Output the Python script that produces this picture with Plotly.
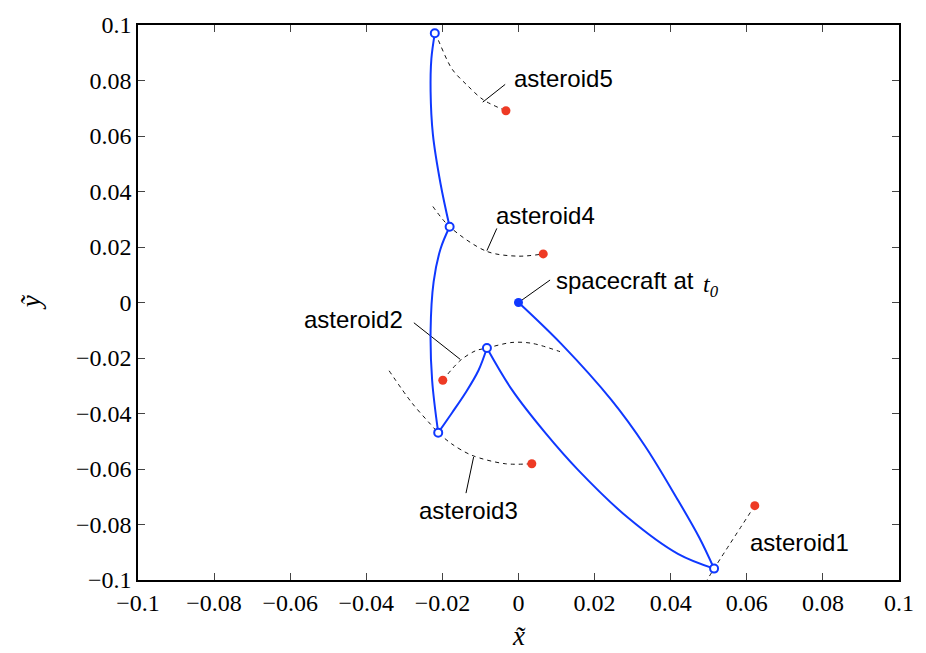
import plotly.graph_objects as go

# ---------------- data ----------------
# spacecraft trajectory legs (x, y)
leg1_x = [0.0, 0.0113, 0.0244, 0.0332, 0.0416, 0.0475, 0.0514]
leg1_y = [0.0, -0.0150, -0.0351, -0.0516, -0.0705, -0.0847, -0.0959]
leg2_x = [0.0514, 0.0419, 0.0288, 0.0157, 0.0070, -0.0017, -0.0083]
leg2_y = [-0.0959, -0.0906, -0.0776, -0.0604, -0.0469, -0.0315, -0.0164]
leg3_x = [-0.0083, -0.0105, -0.0140, -0.0175, -0.0211]
leg3_y = [-0.0164, -0.0244, -0.0327, -0.0398, -0.0469]
leg4_x = [-0.0211, -0.0227, -0.0231, -0.0223, -0.0205, -0.0181]
leg4_y = [-0.0469, -0.0280, -0.0103, 0.0075, 0.0193, 0.0273]
leg5_x = [-0.0181, -0.0205, -0.0225, -0.0231, -0.0229, -0.0220]
leg5_y = [0.0273, 0.0429, 0.0606, 0.0760, 0.0878, 0.0970]

# asteroid paths (dashed)
ast1_x = [0.0621, 0.0514, 0.0478]
ast1_y = [-0.0732, -0.0959, -0.1040]
ast2_x = [-0.0199, -0.0153, -0.0113, -0.0083, -0.0017, 0.0035, 0.0109]
ast2_y = [-0.0280, -0.0209, -0.0174, -0.0164, -0.0144, -0.0147, -0.0177]
ast3_x = [-0.0340, -0.0280, -0.0231, -0.0211, -0.0175, -0.0122, -0.0035, 0.0035]
ast3_y = [-0.0246, -0.0362, -0.0439, -0.0469, -0.0510, -0.0551, -0.0581, -0.0581]
ast4_x = [-0.0225, -0.0181, -0.0083, 0.0000, 0.0065]
ast4_y = [0.0346, 0.0273, 0.0184, 0.0167, 0.0175]
ast5_x = [-0.0220, -0.0214, -0.0175, -0.0135, -0.0092, -0.0033]
ast5_y = [0.0970, 0.0955, 0.0842, 0.0783, 0.0730, 0.0691]

# asteroid positions at t0 (red dots)
ast_t0_x = [0.0621, -0.0199, 0.0035, 0.0065, -0.0033]
ast_t0_y = [-0.0732, -0.0280, -0.0581, 0.0175, 0.0691]

# encounter points (open circles)
enc_x = [0.0514, -0.0083, -0.0211, -0.0181, -0.0220]
enc_y = [-0.0959, -0.0164, -0.0469, 0.0273, 0.0970]

# spacecraft start
sc_x = [0.0]
sc_y = [0.0]

# labels
label_text = ["asteroid1", "asteroid2", "asteroid3", "asteroid4", "asteroid5", "spacecraft at"]
label_x = [0.0604, -0.0298, -0.0132, -0.0064, -0.0018, 0.0094]
label_y = [-0.0864, -0.0061, -0.0750, 0.0314, 0.0807, 0.0080]
label_anchor = ["left", "right", "center", "left", "left", "left"]

t0_text = "<i>t</i><sub><i>0</i></sub>"
t0_x = 0.0480
t0_y = 0.0060

# leader lines: (x0, y0, x1, y1)
leader_x0 = [-0.0094, -0.0083, 0.0000, -0.0275, -0.0118]
leader_y0 = [0.0722, 0.0187, 0.0000, -0.0073, -0.0557]
leader_x1 = [-0.0035, -0.0057, 0.0083, -0.0153, -0.0138]
leader_y1 = [0.0786, 0.0267, 0.0081, -0.0205, -0.0687]

tick_vals = [-0.1, -0.08, -0.06, -0.04, -0.02, 0, 0.02, 0.04, 0.06, 0.08, 0.1]
tick_text = ["\u22120.1", "\u22120.08", "\u22120.06", "\u22120.04", "\u22120.02", "0",
             "0.02", "0.04", "0.06", "0.08", "0.1"]

BLUE = "#0f38ff"
RED = "#ee3a24"
SERIF = "Liberation Serif"
SANS = "Liberation Sans"

fig = go.Figure()

# dashed asteroid paths
for ax, ay in [(ast1_x, ast1_y), (ast2_x, ast2_y), (ast3_x, ast3_y), (ast4_x, ast4_y), (ast5_x, ast5_y)]:
    fig.add_trace(go.Scatter(x=ax, y=ay, mode="lines",
                             line=dict(color="#111111", width=1, dash="4px,4px", shape="spline", smoothing=0.9),
                             hoverinfo="skip", showlegend=False))

# leader lines
for x0, y0, x1, y1 in zip(leader_x0, leader_y0, leader_x1, leader_y1):
    fig.add_trace(go.Scatter(x=[x0, x1], y=[y0, y1], mode="lines",
                             line=dict(color="black", width=1),
                             hoverinfo="skip", showlegend=False))

# spacecraft legs
for lx, ly in [(leg1_x, leg1_y), (leg2_x, leg2_y), (leg3_x, leg3_y), (leg4_x, leg4_y), (leg5_x, leg5_y)]:
    fig.add_trace(go.Scatter(x=lx, y=ly, mode="lines",
                             line=dict(color=BLUE, width=2, shape="spline", smoothing=1.0),
                             hoverinfo="skip", showlegend=False))

# red asteroid dots
fig.add_trace(go.Scatter(x=ast_t0_x, y=ast_t0_y, mode="markers",
                         marker=dict(color=RED, size=9, line=dict(width=0)),
                         showlegend=False))
# encounter open circles
fig.add_trace(go.Scatter(x=enc_x, y=enc_y, mode="markers", cliponaxis=False,
                         marker=dict(color="white", size=8, line=dict(color=BLUE, width=2)),
                         showlegend=False))
# spacecraft start
fig.add_trace(go.Scatter(x=sc_x, y=sc_y, mode="markers",
                         marker=dict(color=BLUE, size=9, line=dict(width=0)),
                         showlegend=False))

annotations = []
for t, x, y, a in zip(label_text, label_x, label_y, label_anchor):
    annotations.append(dict(x=x, y=y, xref="x", yref="y", text=t, showarrow=False,
                            xanchor=a, yanchor="middle",
                            font=dict(family=SANS, size=24, color="black")))
annotations.append(dict(x=t0_x, y=t0_y, xref="x", yref="y", text=t0_text, showarrow=False,
                        xanchor="left", yanchor="middle",
                        font=dict(family=SERIF, size=24, color="black")))
# axis titles
annotations.append(dict(x=0.5, y=-0.1, xref="paper", yref="paper", text="<i>x\u0303</i>", showarrow=False,
                        xanchor="center", yanchor="middle",
                        font=dict(family=SERIF, size=27, color="black")))
annotations.append(dict(x=-0.141, y=0.5, xref="paper", yref="paper", text="<i>y\u0303</i>", showarrow=False,
                        xanchor="center", yanchor="middle", textangle=-90,
                        font=dict(family=SERIF, size=27, color="black")))

axis_common = dict(range=[-0.1, 0.1], tickvals=tick_vals, ticktext=tick_text,
                   ticks="inside", ticklen=7, tickwidth=1, tickcolor="#444444",
                   showline=True, linecolor="black", linewidth=1.5, mirror="ticks",
                   showgrid=False, zeroline=False,
                   tickfont=dict(family=SERIF, size=24, color="black"))

fig.update_layout(
    width=926, height=653,
    margin=dict(l=138, r=24, t=16, b=73),
    paper_bgcolor="white", plot_bgcolor="white",
    font=dict(family=SERIF, color="black"),
    xaxis=dict(**axis_common),
    yaxis=dict(**axis_common),
    annotations=annotations,
    showlegend=False,
)

fig.write_html("out.html")
